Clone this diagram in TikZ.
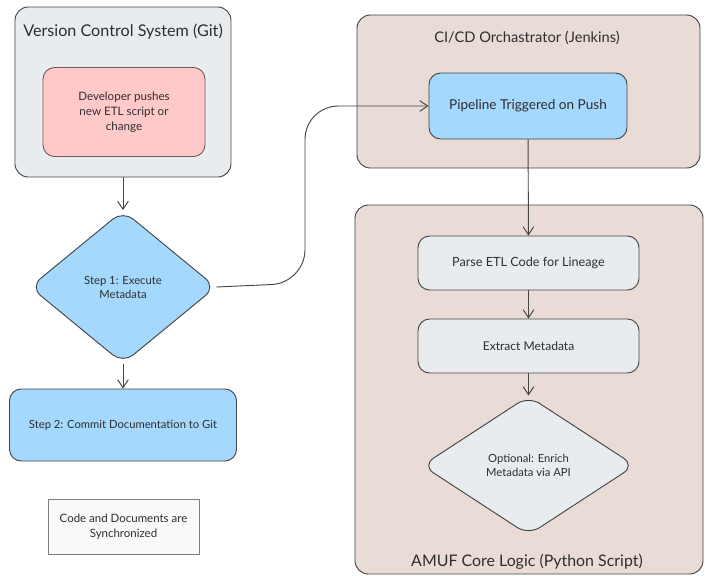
\documentclass[tikz,border=0pt]{standalone}
\usepackage{fontspec}
\setmainfont{Lato}
\usetikzlibrary{shapes.geometric,arrows.meta}

\definecolor{gitfill}{HTML}{E9ECEF}
\definecolor{pushfill}{HTML}{FFC9C9}
\definecolor{stepfill}{HTML}{A5D8FF}
\definecolor{stagefill}{HTML}{E9DCD6}
\definecolor{taskfill}{HTML}{E9ECEF}
\definecolor{notefill}{HTML}{F8F9FA}
\definecolor{inkline}{HTML}{454545}
\definecolor{inktext}{HTML}{2E2E2E}

\tikzstyle{container} = [draw=inkline, line width=0.8pt, rounded corners=4mm, inner sep=0pt]
\tikzstyle{heading} = [text=inktext, font=\fontsize{12.5}{14}\selectfont]
\tikzstyle{rounded} = [draw=inkline, line width=0.8pt, rounded corners=3.5mm, align=center, text=inktext, inner sep=0pt]
\tikzstyle{decision} = [draw=inkline, line width=0.8pt, diamond, rounded corners=4mm, align=center, text=inktext, inner sep=0pt, font=\fontsize{9.6}{12}\selectfont]
\tikzstyle{arrow} = [-{Straight Barb[length=2.4mm,width=3.2mm]}, draw=inkline, line width=0.8pt]

\begin{document}
\begin{tikzpicture}[x=0.03cm, y=-0.03cm]
  \useasboundingbox (0,0) rectangle (705,575);

  % left column: git side
  \node[container, fill=gitfill, minimum width=6.48cm, minimum height=5.1cm] (git) at (123,92) {};
  \node[heading, font=\fontsize{13.8}{15}\selectfont] (gittitle) at (123,32) {Version Control System (Git)};
  \node[rounded, fill=pushfill, draw=pushfill!45!black, minimum width=4.86cm, minimum height=2.67cm,
        font=\fontsize{9.9}{12.8}\selectfont] (push) at (124,112) {Developer pushes\\new ETL script or\\change};
  \node[decision, fill=stepfill, minimum width=5.58cm, minimum height=4.59cm] (exec) at (123,287) {Step 1: Execute\\Metadata};
  \node[rounded, fill=stepfill, minimum width=6.81cm, minimum height=2.16cm,
        font=\fontsize{9.6}{11}\selectfont] (commit) at (123,425) {Step 2: Commit Documentation to Git};
  \node[draw=inkline!70, fill=notefill, line width=0.6pt, minimum width=4.53cm, minimum height=1.65cm, align=center,
        text=inktext, inner sep=0pt, font=\fontsize{9.8}{12.5}\selectfont] (sync) at (123.5,526.5) {Code and Documents are\\Synchronized};

  % right column: jenkins and the python script
  \node[container, fill=stagefill, minimum width=10.29cm, minimum height=4.59cm] (jenkins) at (528.5,91.5) {};
  \node[heading] (jtitle) at (527,38) {CI/CD Orchastrator (Jenkins)};
  \node[rounded, fill=stepfill, minimum width=5.94cm, minimum height=1.98cm,
        font=\fontsize{11.6}{13}\selectfont] (pipeline) at (528,106) {Pipeline Triggered on Push};

  \node[container, fill=stagefill, minimum width=10.44cm, minimum height=11.07cm] (amuf) at (529,389.5) {};
  \node[heading, font=\fontsize{13.6}{15}\selectfont] (atitle) at (527,562) {AMUF Core Logic (Python Script)};
  \node[rounded, fill=taskfill, minimum width=6.63cm, minimum height=1.62cm,
        font=\fontsize{10.8}{12}\selectfont] (parse) at (528.5,263) {Parse ETL Code for Lineage};
  \node[rounded, fill=taskfill, minimum width=6.63cm, minimum height=1.62cm,
        font=\fontsize{10.3}{12}\selectfont] (extract) at (528.5,346) {Extract Metadata};
  \node[decision, fill=taskfill, minimum width=6.39cm, minimum height=4.17cm] (enrich) at (528.5,465.5) {Optional: Enrich\\Metadata via API};

  \draw[arrow] (git) -- (exec);
  \draw[arrow] (exec) -- (commit);
  \draw[arrow, rounded corners=1cm] (exec.east) -- (305,283) -- (305,106) -- (pipeline.west);
  \draw[arrow] (pipeline) -- (parse);
  \draw[arrow] (parse) -- (extract);
  \draw[arrow] (extract) -- (enrich);

\end{tikzpicture}
\end{document}
